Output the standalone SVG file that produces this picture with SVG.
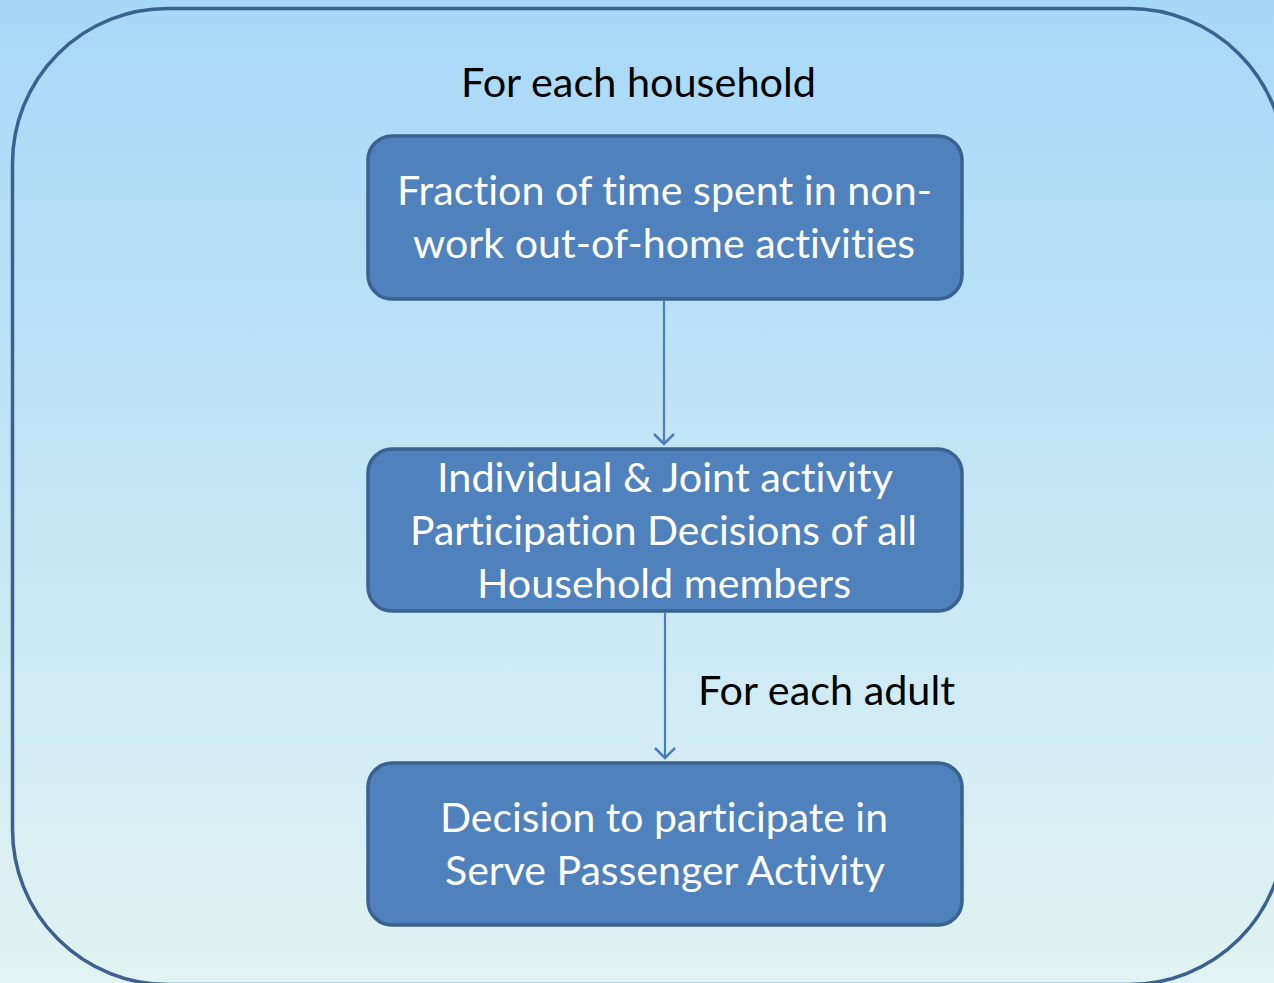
<svg xmlns="http://www.w3.org/2000/svg" width="1274" height="983" viewBox="0 0 1274 983">
<defs>
<linearGradient id="bg" x1="0" y1="0" x2="0" y2="1">
<stop offset="0" stop-color="#a7d8f8"/>
<stop offset="1" stop-color="#e1f3f2"/>
</linearGradient>
<marker id="arr" markerWidth="22" markerHeight="22" refX="11" refY="11" orient="auto" markerUnits="userSpaceOnUse">
<path d="M1,1 L11,11 L1,21" fill="none" stroke="#4a7ebb" stroke-width="2.5"/>
</marker>
<style>
.box{fill:#4f81bd;stroke:#3a6190;stroke-width:3.5}
.wt{fill:#ffffff;font-family:Lato,"Open Sans","Liberation Sans",sans-serif;font-size:40px;text-anchor:middle;font-variant-ligatures:none}
.bt{fill:#000000;font-family:Lato,"Open Sans","Liberation Sans",sans-serif;font-size:40px;font-variant-ligatures:none}
.conn{stroke:#4a7ebb;stroke-width:2.2;fill:none}
</style>
</defs>
<rect x="0" y="0" width="1274" height="983" fill="url(#bg)"/>
<rect id="frame" x="12.5" y="8.5" width="1272" height="976" rx="155" ry="155" fill="none" stroke="#3a6190" stroke-width="3.5"/>
<text class="bt" x="461" y="97" textLength="355" lengthAdjust="spacingAndGlyphs">For each household</text>
<text class="bt" x="698" y="705" textLength="257" lengthAdjust="spacingAndGlyphs">For each adult</text>
<g id="connectors">
<line class="conn" x1="664" y1="301" x2="664" y2="444" marker-end="url(#arr)"/>
<line class="conn" x1="665" y1="613" x2="665" y2="758" marker-end="url(#arr)"/>
</g>
<g id="node1">
<rect class="box" x="368" y="136" width="594" height="163" rx="24"/>
<text class="wt" x="664.5" y="205" textLength="535" lengthAdjust="spacingAndGlyphs">Fraction of time spent in non-</text>
<text class="wt" x="664" y="258" textLength="502" lengthAdjust="spacingAndGlyphs">work out-of-home activities</text>
</g>
<g id="node2">
<rect class="box" x="368" y="449" width="594" height="162" rx="24"/>
<text class="wt" x="665" y="492" textLength="456" lengthAdjust="spacingAndGlyphs">Individual &amp; Joint activity</text>
<text class="wt" x="663.5" y="545" textLength="507" lengthAdjust="spacingAndGlyphs">Participation Decisions of all</text>
<text class="wt" x="664" y="598" textLength="374" lengthAdjust="spacingAndGlyphs">Household members</text>
</g>
<g id="node3">
<rect class="box" x="368" y="763" width="594" height="162" rx="24"/>
<text class="wt" x="664" y="832" textLength="448" lengthAdjust="spacingAndGlyphs">Decision to participate in</text>
<text class="wt" x="665" y="885" textLength="440" lengthAdjust="spacingAndGlyphs">Serve Passenger Activity</text>
</g>
</svg>
